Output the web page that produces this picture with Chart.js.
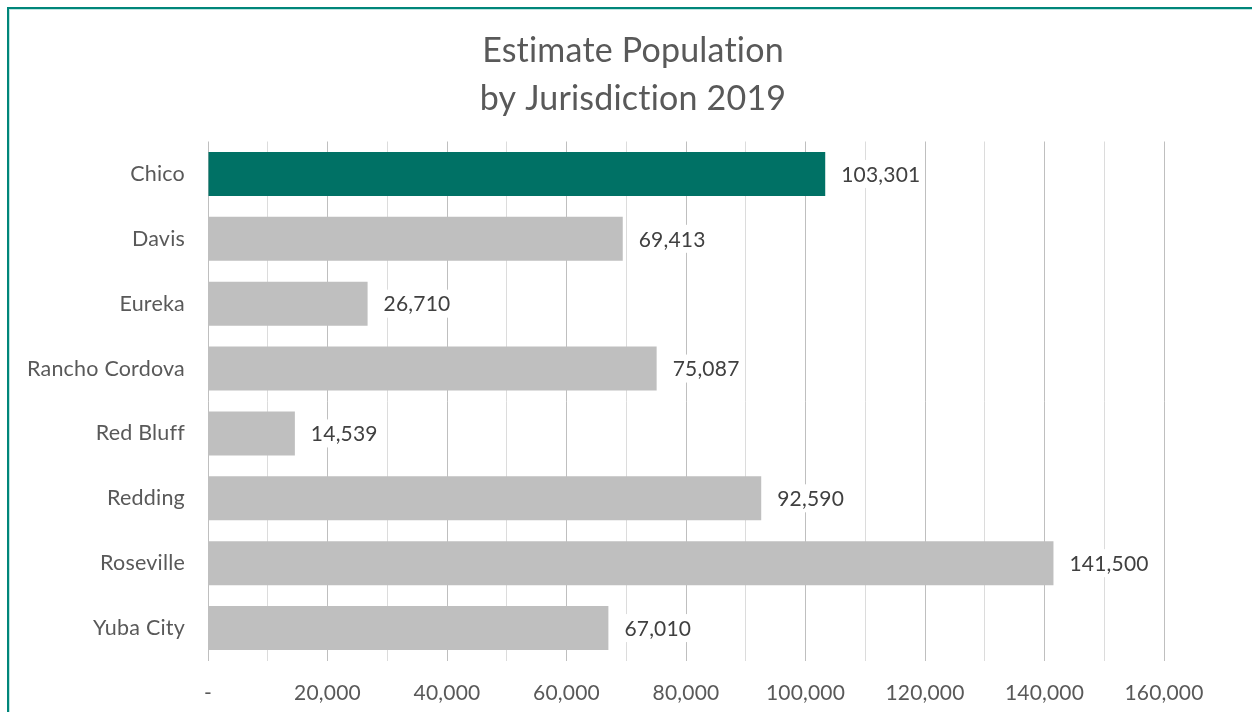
<!DOCTYPE html>
<html>
<head>
<meta charset="utf-8">
<title>Estimate Population by Jurisdiction 2019</title>
<script src="https://cdn.jsdelivr.net/npm/chart.js@4"></script>
<style>
    html, body { margin: 0; padding: 0; background: #fff; overflow: hidden; }
    .chart-wrap { position: relative; width: 1252px; height: 712px; }
    .frame {
        position: absolute; left: 7px; top: 7px; width: 1260px; height: 720px;
        border-top: 2px solid #00867a; border-left: 2px solid #00867a;
        box-shadow: inset 1px 1px 0 #bfe5e1;
        pointer-events: none;
    }
</style>
</head>
<body>
<div class="chart-wrap">
    <canvas id="popChart" width="1252" height="712"></canvas>
    <div class="frame"></div>
</div>
<script>
// Data
const cities = ['Chico', 'Davis', 'Eureka', 'Rancho Cordova', 'Red Bluff', 'Redding', 'Roseville', 'Yuba City'];
const population = [103301, 69413, 26710, 75087, 14539, 92590, 141500, 67010];
const highlightCity = 'Chico';
const titleLines = ['Estimate Population', 'by Jurisdiction 2019'];
const axisMin = 0;
const axisMax = 160000;
const gridStep = 10000;
const labelStep = 20000;

const FONT = 'Lato, "Open Sans", sans-serif';
const TEXT = '#595959';

const fmt = (v) => v.toLocaleString('en-US');

// small letter spacing keeps Lato from using its "ti" ligature
const spacing = {
    id: 'spacing',
    beforeDraw(chart) { chart.ctx.letterSpacing = '0.2px'; }
};

// Excel centres the title a bit right of the canvas middle, so draw it here
const chartTitle = {
    id: 'chartTitle',
    afterDraw(chart) {
        const ctx = chart.ctx;
        ctx.save();
        ctx.font = '34px ' + FONT;
        ctx.fillStyle = TEXT;
        ctx.textAlign = 'center';
        ctx.textBaseline = 'middle';
        titleLines.forEach((line, i) => ctx.fillText(line, 633, 51 + i * 48));
        ctx.restore();
    }
};

// value labels with white box behind them, like the Excel original
const valueLabels = {
    id: 'valueLabels',
    afterDatasetsDraw(chart) {
        const ctx = chart.ctx;
        const meta = chart.getDatasetMeta(0);
        ctx.save();
        ctx.font = '21px ' + FONT;
        ctx.textBaseline = 'middle';
        ctx.textAlign = 'left';
        meta.data.forEach((bar, i) => {
            const txt = fmt(chart.data.datasets[0].data[i]);
            const w = ctx.measureText(txt).width;
            const x = bar.x + 16;
            ctx.fillStyle = '#fff';
            ctx.fillRect(x - 4, bar.y - 14, w + 8, 28);
            ctx.fillStyle = '#404040';
            ctx.fillText(txt, x, bar.y + 1);
        });
        ctx.restore();
    }
};

new Chart(document.getElementById('popChart'), {
    type: 'bar',
    data: {
        labels: cities,
        datasets: [{
            data: population,
            backgroundColor: cities.map(c => c === highlightCity ? '#007165' : '#bfbfbf'),
            borderWidth: 0,
            categoryPercentage: 1,
            barPercentage: 0.68
        }]
    },
    options: {
        indexAxis: 'y',
        responsive: false,
        animation: false,
        layout: { padding: { left: 10, right: 88, top: 141.5, bottom: 0 } },
        plugins: {
            legend: { display: false },
            tooltip: { enabled: false },
            title: { display: false }
        },
        scales: {
            x: {
                min: axisMin,
                max: axisMax,
                border: { display: false },
                grid: {
                    drawTicks: false,
                    color: (c) => (c.tick && c.tick.value % labelStep === 0) ? '#bfbfbf' : '#dcdcdc',
                    lineWidth: 1
                },
                ticks: {
                    stepSize: gridStep,
                    autoSkip: false,
                    maxRotation: 0,
                    padding: 20,
                    color: TEXT,
                    font: { family: FONT, size: 21 },
                    callback: (v) => v % labelStep !== 0 ? '' : (v === 0 ? '-' : fmt(v))
                },
                afterFit: (scale) => { scale.height = 51.5; }
            },
            y: {
                border: { display: false },
                grid: { display: false, drawTicks: false },
                ticks: {
                    padding: 23,
                    color: TEXT,
                    font: { family: FONT, size: 21.5 }
                },
                afterFit: (scale) => { scale.width = 198; }
            }
        }
    },
    plugins: [spacing, chartTitle, valueLabels]
});
</script>
</body>
</html>
